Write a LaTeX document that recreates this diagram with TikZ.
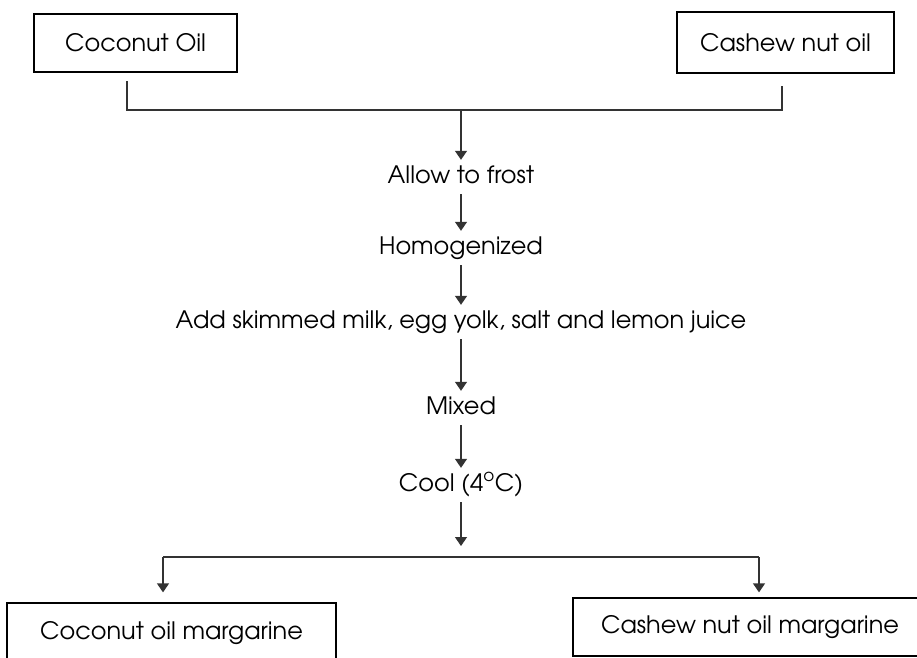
\documentclass[tikz,border=0pt]{standalone}
\usepackage{fontspec}
\setmainfont{texgyreadventor-regular.otf}
\usetikzlibrary{arrows.meta,calc,positioning}

\begin{document}
\begin{tikzpicture}[x=1pt, y=-1pt,
    every node/.style={font=\fontsize{24}{24}\selectfont},
    box/.style={draw=black, line width=1.3pt, inner sep=0pt},
    stepnode/.style={inner xsep=0pt, inner ysep=6pt, text height=17pt, text depth=5pt, anchor=base},
    link/.style={line width=1.3pt, color=black!80},
    flow/.style={link, -{Triangle[width=12pt,length=9pt]}}]

    % Page frame (boxes at the bottom run past it)
    \useasboundingbox (0,0) rectangle (917,657);
    \clip (0,0) rectangle (917,657);

    \def\mid{461}    % x of the main line

    % The two oils
    \node[box, minimum width=203, minimum height=58] (coconut) at (135.5,43) {Coconut Oil};
    \node[box, minimum width=217, minimum height=61] (cashew) at (785.5,42.5) {Cashew nut oil};

    % Joining bracket
    \coordinate (cocoDrop) at (127,81);
    \coordinate (cocoKnee) at (127,110);
    \coordinate (cashewDrop) at (782,86);
    \coordinate (cashewKnee) at (782,110);
    \coordinate (join) at (\mid,110);
    \draw[link] (cocoDrop) -- (cocoKnee) -- (cashewKnee) -- (cashewDrop);

    % Process steps
    \node[stepnode] (frost) at (\mid,183) {Allow to frost};
    \node[stepnode] (homog) at (\mid,254) {Homogenized};
    \node[stepnode] (add) at (\mid,328) {Add skimmed milk, egg yolk, salt and lemon juice};
    \node[stepnode] (mixed) at (\mid,414) {Mixed};
    \node[stepnode] (cool) at (\mid,491) {Cool (4\textsuperscript{o}C)};

    \draw[flow] (join) -- (frost);
    \draw[flow] (frost) -- (homog);
    \draw[flow] (homog) -- (add);
    \draw[flow] (add) -- (mixed);
    \draw[flow] (mixed) -- (cool);

    % Split into the two products
    \coordinate (split) at (\mid,557);
    \coordinate (leftKnee) at (163,557);
    \coordinate (rightKnee) at (759,557);
    \draw[flow, shorten >=11pt] (cool) -- (split);
    \draw[link] (leftKnee) -- (rightKnee);

    \node[box, minimum width=329, minimum height=60] (cocoMarg) at (171.5,633) {Coconut oil margarine};
    \node[box, minimum width=354, minimum height=58] (cashewMarg) at (750,627) {Cashew nut oil margarine};

    \draw[flow, shorten >=10pt] (leftKnee) -- (leftKnee |- cocoMarg.north);
    \draw[flow, shorten >=5pt] (rightKnee) -- (rightKnee |- cashewMarg.north);

\end{tikzpicture}
\end{document}
